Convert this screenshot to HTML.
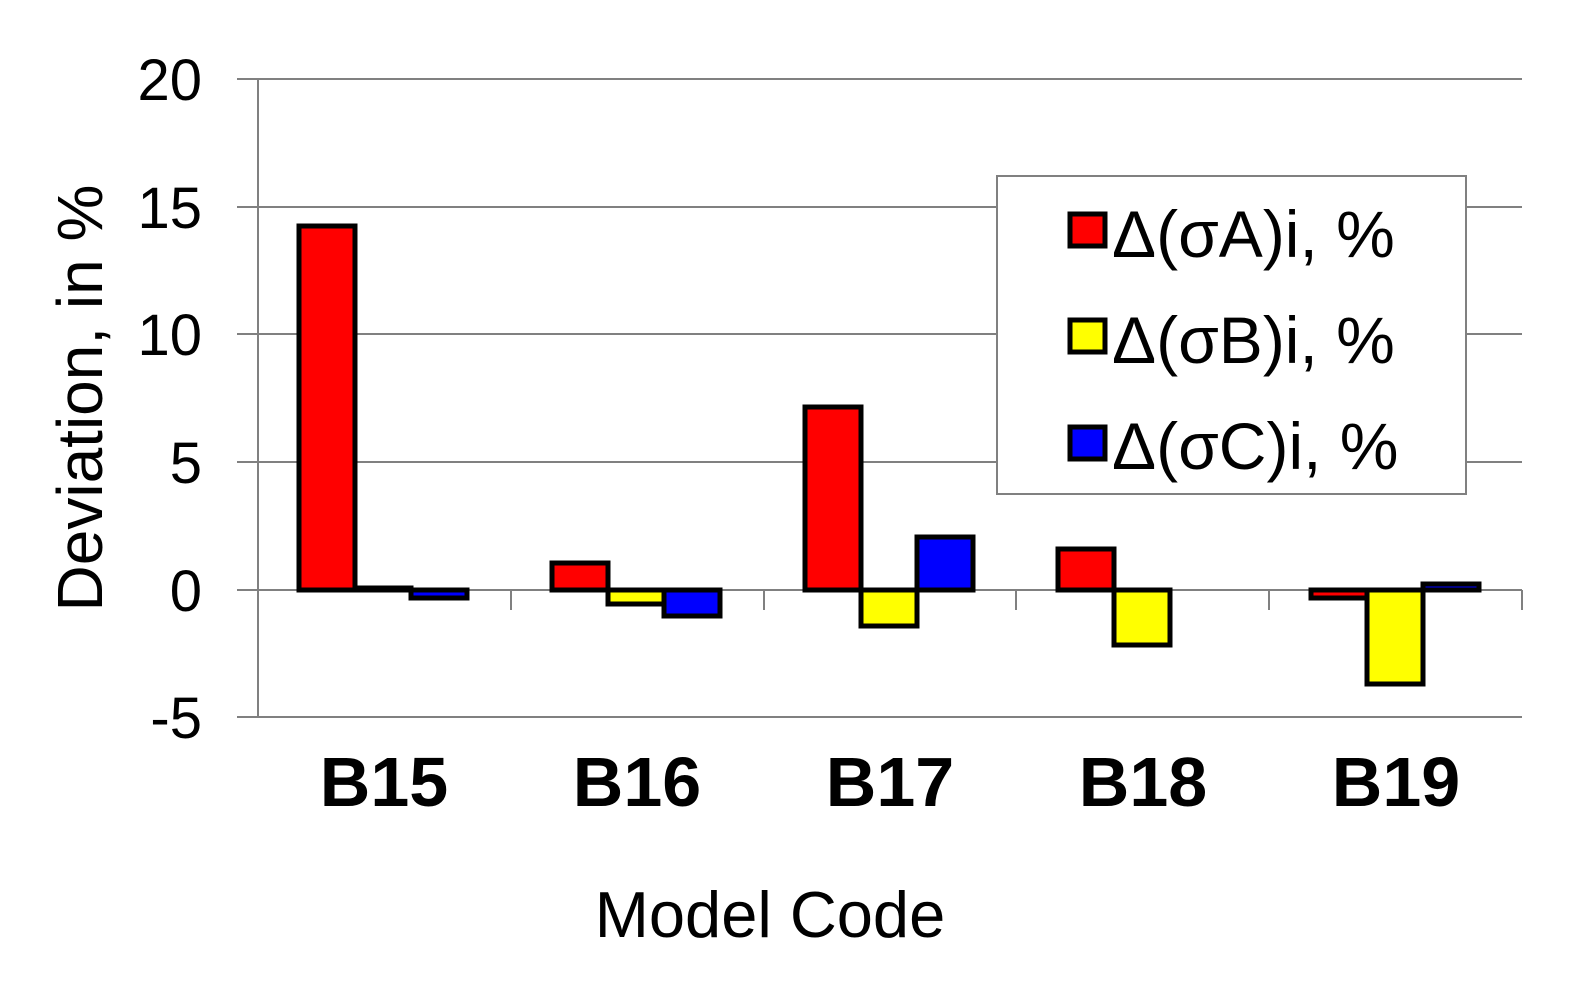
<!DOCTYPE html>
<html><head><meta charset="utf-8"><style>body{margin:0;background:#fff}</style></head>
<body>
<svg width="1583" height="978" xmlns="http://www.w3.org/2000/svg" font-family="Liberation Sans, Arial, sans-serif">
<rect width="1583" height="978" fill="#fff"/>
<g stroke="#808080" stroke-width="2">
<line x1="237" y1="79" x2="1522" y2="79"/>
<line x1="237" y1="207" x2="1522" y2="207"/>
<line x1="237" y1="334" x2="1522" y2="334"/>
<line x1="237" y1="462" x2="1522" y2="462"/>
<line x1="237" y1="717" x2="1522" y2="717"/>
<line x1="258" y1="79" x2="258" y2="717"/>
<line x1="237" y1="590" x2="1522" y2="590"/>
<line x1="511" y1="590" x2="511" y2="610"/>
<line x1="764" y1="590" x2="764" y2="610"/>
<line x1="1016" y1="590" x2="1016" y2="610"/>
<line x1="1269" y1="590" x2="1269" y2="610"/>
<line x1="1522" y1="590" x2="1522" y2="610"/>
</g>
<g stroke="#000" stroke-width="5">
<rect x="299" y="226" width="56" height="364" fill="#ff0000"/>
<rect x="355" y="588" width="56" height="2" fill="#ffff00"/>
<rect x="411" y="590" width="56" height="8" fill="#0000ff"/>
<rect x="552" y="563" width="56" height="27" fill="#ff0000"/>
<rect x="608" y="590" width="56" height="14" fill="#ffff00"/>
<rect x="664" y="590" width="56" height="26" fill="#0000ff"/>
<rect x="805" y="407" width="56" height="183" fill="#ff0000"/>
<rect x="861" y="590" width="56" height="36" fill="#ffff00"/>
<rect x="917" y="537" width="56" height="53" fill="#0000ff"/>
<rect x="1058" y="549" width="56" height="41" fill="#ff0000"/>
<rect x="1114" y="590" width="56" height="55" fill="#ffff00"/>
<rect x="1311" y="590" width="56" height="8" fill="#ff0000"/>
<rect x="1367" y="590" width="56" height="94" fill="#ffff00"/>
<rect x="1423" y="584" width="56" height="6" fill="#0000ff"/>
</g>
<g font-size="58" text-anchor="end" fill="#000">
<text x="202" y="100">20</text>
<text x="202" y="228">15</text>
<text x="202" y="355">10</text>
<text x="202" y="483">5</text>
<text x="202" y="611">0</text>
<text x="202" y="738">-5</text>
</g>
<text transform="translate(102,398) rotate(-90)" font-size="64" text-anchor="middle">Deviation, in %</text>
<g font-size="70" font-weight="bold" text-anchor="middle">
<text x="384" y="806">B15</text>
<text x="637" y="806">B16</text>
<text x="890" y="806">B17</text>
<text x="1143" y="806">B18</text>
<text x="1396" y="806">B19</text>
</g>
<text x="770" y="937" font-size="65" text-anchor="middle">Model Code</text>
<rect x="997" y="176" width="469" height="318" fill="#fff" stroke="#808080" stroke-width="2"/>
<g stroke="#000" stroke-width="5">
<rect x="1070" y="214" width="35" height="32" fill="#ff0000"/>
<rect x="1070" y="320" width="35" height="32" fill="#ffff00"/>
<rect x="1070" y="427" width="35" height="32" fill="#0000ff"/>
</g>
<g font-size="66">
<text x="1112" y="257">Δ(σA)i, %</text>
<text x="1112" y="363">Δ(σB)i, %</text>
<text x="1112" y="469">Δ(σC)i, %</text>
</g>
</svg>
</body></html>
